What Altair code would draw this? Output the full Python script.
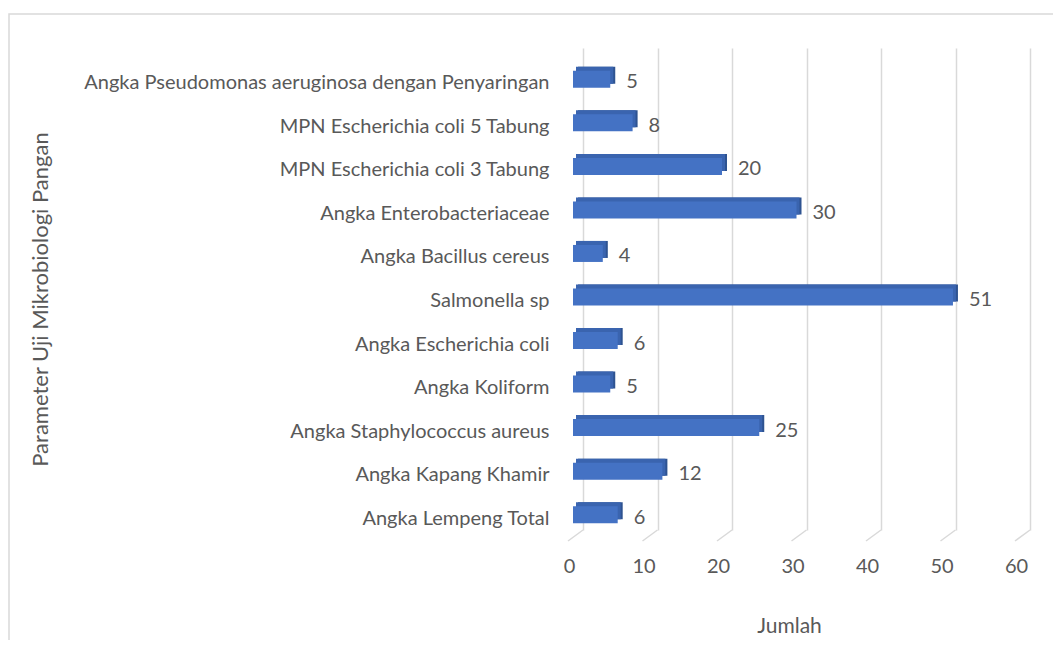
import altair as alt
import pandas as pd

categories = [
    "Angka Pseudomonas aeruginosa dengan Penyaringan",
    "MPN Escherichia coli 5 Tabung",
    "MPN Escherichia coli 3 Tabung",
    "Angka Enterobacteriaceae",
    "Angka Bacillus cereus",
    "Salmonella sp",
    "Angka Escherichia coli",
    "Angka Koliform",
    "Angka Staphylococcus aureus",
    "Angka Kapang Khamir",
    "Angka Lempeng Total",
]
values = [5, 8, 20, 30, 4, 51, 6, 5, 25, 12, 6]
ticks = [0, 10, 20, 30, 40, 50, 60]

df = pd.DataFrame({"cat": categories, "val": values})
tdf = pd.DataFrame({"t": ticks})

FONT = "Lato"
TXT = "#595959"
GRID = "#d9d9d9"
W, H = 447, 482
PL = 575

yenc = alt.Y("cat:N", sort=categories,
             scale=alt.Scale(paddingInner=0.1, paddingOuter=0.085),
             axis=alt.Axis(title="Parameter Uji Mikrobiologi Pangan", ticks=False, domain=False,
                           labelPadding=34, labelOffset=12, labelFontSize=20, labelFont=FONT,
                           labelColor=TXT, labelLimit=1000, titleFontSize=22, titleFont=FONT,
                           titleColor=TXT, titleFontWeight="normal", titleX=-543, titleY=251,
                           titleAlign="center", titleBaseline="middle", titleAngle=-90))
xscale = alt.Scale(domain=[0, 60], nice=False, zero=True)
xenc = alt.X("val:Q", scale=xscale,
             axis=alt.Axis(title="Jumlah", values=ticks, grid=True, gridColor=GRID, gridWidth=1.5,
                           ticks=False, domain=False, labelPadding=26, labelOffset=-14,
                           labelFlush=False, labelFontSize=20, labelFont=FONT, labelColor=TXT,
                           titleFontSize=21, titleFont=FONT, titleColor=TXT,
                           titleFontWeight="normal", titleX=206, titleY=96,
                           titleBaseline="middle", titleAlign="center"))

border = alt.Chart(tdf).mark_rect(fill=None, stroke=GRID, strokeWidth=1.5).encode(
    x=alt.value(-574), x2=alt.value(700), y=alt.value(-34), y2=alt.value(800)
).transform_filter(alt.datum.t == 0)

stubs = alt.Chart(tdf).mark_rule(color=GRID, strokeWidth=1.5, x2Offset=-15).encode(
    x=alt.X("t:Q", scale=xscale), x2="t:Q", y=alt.value(H), y2=alt.value(H + 11)
)

side = alt.Chart(df).mark_bar(size=17, color="#2E5391", xOffset=-5, x2Offset=-5,
                              yOffset=4, y2Offset=4).encode(x=xenc, y=yenc)
top = alt.Chart(df).mark_bar(size=17, color="#3A64AF", xOffset=-7, x2Offset=-5,
                             yOffset=4, y2Offset=4).encode(x=xenc, y=yenc)
front = alt.Chart(df).mark_bar(size=17, color="#4472C4", xOffset=-10, x2Offset=-10,
                               yOffset=8, y2Offset=8).encode(x=xenc, y=yenc)
labels = alt.Chart(df).mark_text(align="left", baseline="middle", dx=6, dy=11,
                                 fontSize=20, font=FONT, color=TXT).encode(
    x=xenc, y=yenc, text="val:Q")

chart = alt.layer(border, stubs, side, top, front, labels).properties(
    width=W, height=H,
    autosize=alt.AutoSizeParams(type="none"),
    padding={"left": PL, "top": 40, "right": 1045 - PL - W, "bottom": 110},
).configure_view(stroke=None)

chart.save("out.html", embed_options={"renderer": "svg", "actions": False})
